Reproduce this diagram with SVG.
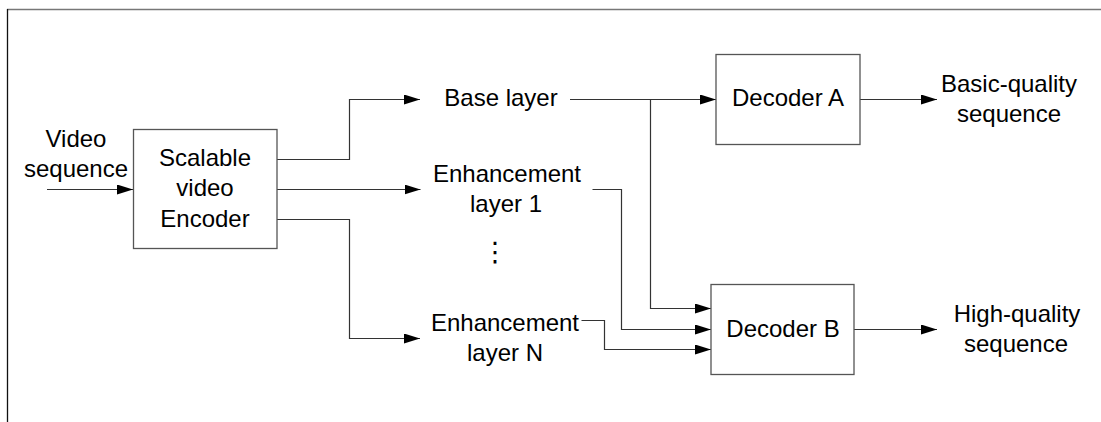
<svg xmlns="http://www.w3.org/2000/svg" width="1101" height="422" viewBox="0 0 1101 422">
  <style>
    text { font-family: "Liberation Sans", Arial, sans-serif; font-size: 24px; fill: #000; text-anchor: middle; }
    .box { fill: #fff; stroke: #555; stroke-width: 1.3; }
    .wire { fill: none; stroke: #333; stroke-width: 1.2; }
  </style>
  <defs>
    <marker id="arrow" markerUnits="userSpaceOnUse" markerWidth="16" markerHeight="10" refX="16" refY="5" orient="auto">
      <path d="M0,0 L16,5 L0,10 z" fill="#000"/>
    </marker>
  </defs>
  <rect width="1101" height="422" fill="#fff"/>

  <!-- outer frame -->
  <g id="frame">
    <line x1="7" y1="9.5" x2="1101" y2="9.5" stroke="#777" stroke-width="1.3"/>
    <line x1="7.5" y1="9" x2="7.5" y2="422" stroke="#111" stroke-width="1.3"/>
  </g>

  <!-- connectors -->
  <g id="connectors" class="wire">
    <path class="wire" d="M47,189.5 H133" marker-end="url(#arrow)"/>
    <path class="wire" d="M277,159.5 H349.5 V99.5 H420" marker-end="url(#arrow)"/>
    <path class="wire" d="M277,189.5 H420.5" marker-end="url(#arrow)"/>
    <path class="wire" d="M277,219.5 H349.5 V338.5 H420" marker-end="url(#arrow)"/>
    <path class="wire" d="M570,99.5 H716" marker-end="url(#arrow)"/>
    <path class="wire" d="M650.5,99.5 V308.5 H711" marker-end="url(#arrow)"/>
    <path class="wire" d="M592.5,189.5 H621.5 V329.5 H711" marker-end="url(#arrow)"/>
    <path class="wire" d="M581.5,320.5 H604.5 V349.5 H711" marker-end="url(#arrow)"/>
    <path class="wire" d="M860,99.5 H937" marker-end="url(#arrow)"/>
    <path class="wire" d="M854,329.5 H937" marker-end="url(#arrow)"/>
  </g>

  <g id="input-label">
    <text x="76" y="146.7">Video</text>
    <text x="76" y="176.7">sequence</text>
  </g>

  <g id="encoder">
    <rect class="box" x="133.5" y="129.5" width="143.5" height="119"/>
    <text x="205" y="165.7">Scalable</text>
    <text x="205" y="196.2">video</text>
    <text x="205" y="226.7">Encoder</text>
  </g>

  <g id="base-layer">
    <text x="501" y="106">Base layer</text>
  </g>

  <g id="enhancement-1">
    <text x="507" y="181.7">Enhancement</text>
    <text x="506" y="211.7">layer 1</text>
  </g>

  <g id="ellipsis">
    <text x="495" y="261" style="font-family: 'DejaVu Sans', sans-serif; font-size: 27px;">⋮</text>
  </g>

  <g id="enhancement-n">
    <text x="505" y="330.7">Enhancement</text>
    <text x="505" y="360.7">layer N</text>
  </g>

  <g id="decoder-a">
    <rect class="box" x="716" y="54.5" width="144" height="90"/>
    <text x="788" y="106">Decoder A</text>
  </g>

  <g id="decoder-b">
    <rect class="box" x="711" y="284.5" width="143" height="90"/>
    <text x="783" y="337.3">Decoder B</text>
  </g>

  <g id="basic-output">
    <text x="1009" y="91.7">Basic-quality</text>
    <text x="1009" y="121.7">sequence</text>
  </g>

  <g id="high-output">
    <text x="1017" y="321.7">High-quality</text>
    <text x="1016" y="351.7">sequence</text>
  </g>
</svg>
